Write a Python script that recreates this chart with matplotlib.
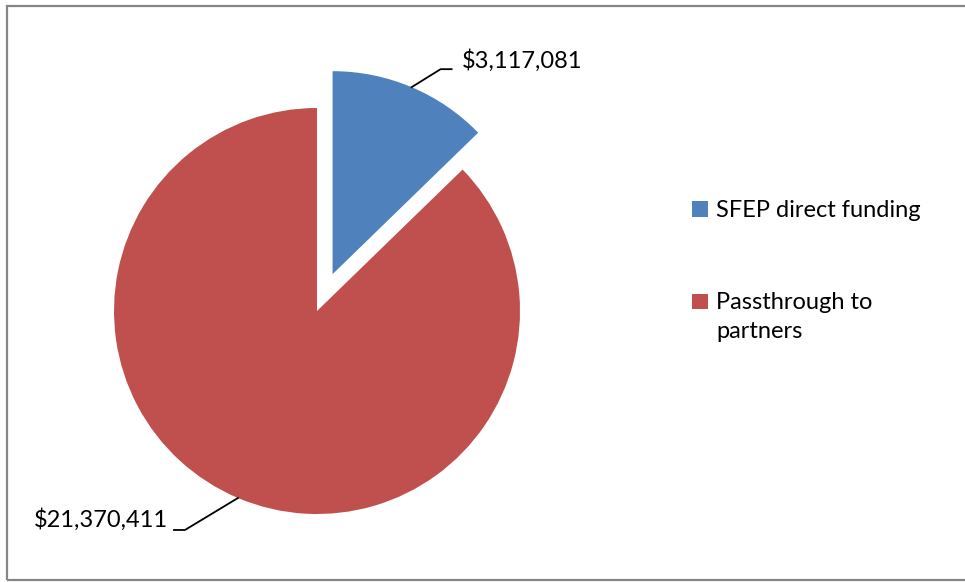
import numpy as np
import matplotlib
matplotlib.use("Agg")
import matplotlib.pyplot as plt
from matplotlib.patches import Rectangle
from matplotlib.lines import Line2D
from matplotlib.legend_handler import HandlerPatch

# ---- data ----
categories = ["SFEP direct funding", "Passthrough to\npartners"]
values = [3117081, 21370411]
value_labels = ["$3,117,081", "$21,370,411"]
colors = ["#4F81BD", "#C0504D"]

W, H = 965, 582
plt.rcParams['font.family'] = ['Lato', 'DejaVu Sans']
fig = plt.figure(figsize=(W / 100, H / 100), dpi=100)
ax = fig.add_axes([0, 0, 1, 1])
ax.set_xlim(0, W)
ax.set_ylim(0, H)
ax.set_aspect('equal')
ax.axis('off')

# border (right edge falls outside the canvas)
fig.patches.append(Rectangle((7 / W, (H - 580) / H), (W + 10 - 7) / W, (580 - 6) / H,
                             transform=fig.transFigure, fill=False,
                             edgecolor="#868686", linewidth=1.6))

R = 203
cx, cy = 317, H - 311
explode_px = 40  # matplotlib applies explode in data units
wedges, _ = ax.pie(values, colors=colors, startangle=90, counterclock=False,
                   radius=R, center=(cx, cy),
                   explode=[explode_px, 0],
                   wedgeprops=dict(linewidth=0))
ax.set_xlim(0, W)
ax.set_ylim(0, H)

fs = 17
# data labels with leader lines
offsets = [((29, 18), (11, 0)), ((-53, -32), (-11, 0))]
for w, lab, (d1, d2) in zip(wedges, value_labels, offsets):
    ang = np.deg2rad((w.theta1 + w.theta2) / 2)
    c = w.center
    x0 = c[0] + R * np.cos(ang)
    y0 = c[1] + R * np.sin(ang)
    x1, y1 = x0 + d1[0], y0 + d1[1]
    x2, y2 = x1 + d2[0], y1 + d2[1]
    ax.add_line(Line2D([x0, x1, x2], [y0, y1, y2], color="black", linewidth=1.3))
    if d2[0] > 0:
        ax.text(x2 + 10, y2 + 9, lab, ha="left", va="center", fontsize=fs)
    else:
        ax.text(x2 - 6, y2 + 10, lab, ha="right", va="center", fontsize=fs)


def square_first_line(legend, orig_handle, xdescent, ydescent, width, height, fontsize):
    # align the square with the first line of a multi-line label
    n_lines = 2
    shift = 0.5 * (n_lines - 1) * 1.45 * fontsize * 0.93
    return Rectangle((-xdescent, -ydescent + shift), width, height)


leg = ax.legend(wedges, categories, loc="upper left",
                bbox_to_anchor=(683 / W, 1 - 191 / H), bbox_transform=fig.transFigure,
                frameon=False, fontsize=fs, handlelength=0.65, handleheight=0.65,
                handletextpad=0.35, labelspacing=3.0, borderaxespad=0,
                handler_map={wedges[1]: HandlerPatch(patch_func=square_first_line)})
for t in leg.get_texts():
    t.set_linespacing(1.45)

fig.savefig("out.png", dpi=100)
